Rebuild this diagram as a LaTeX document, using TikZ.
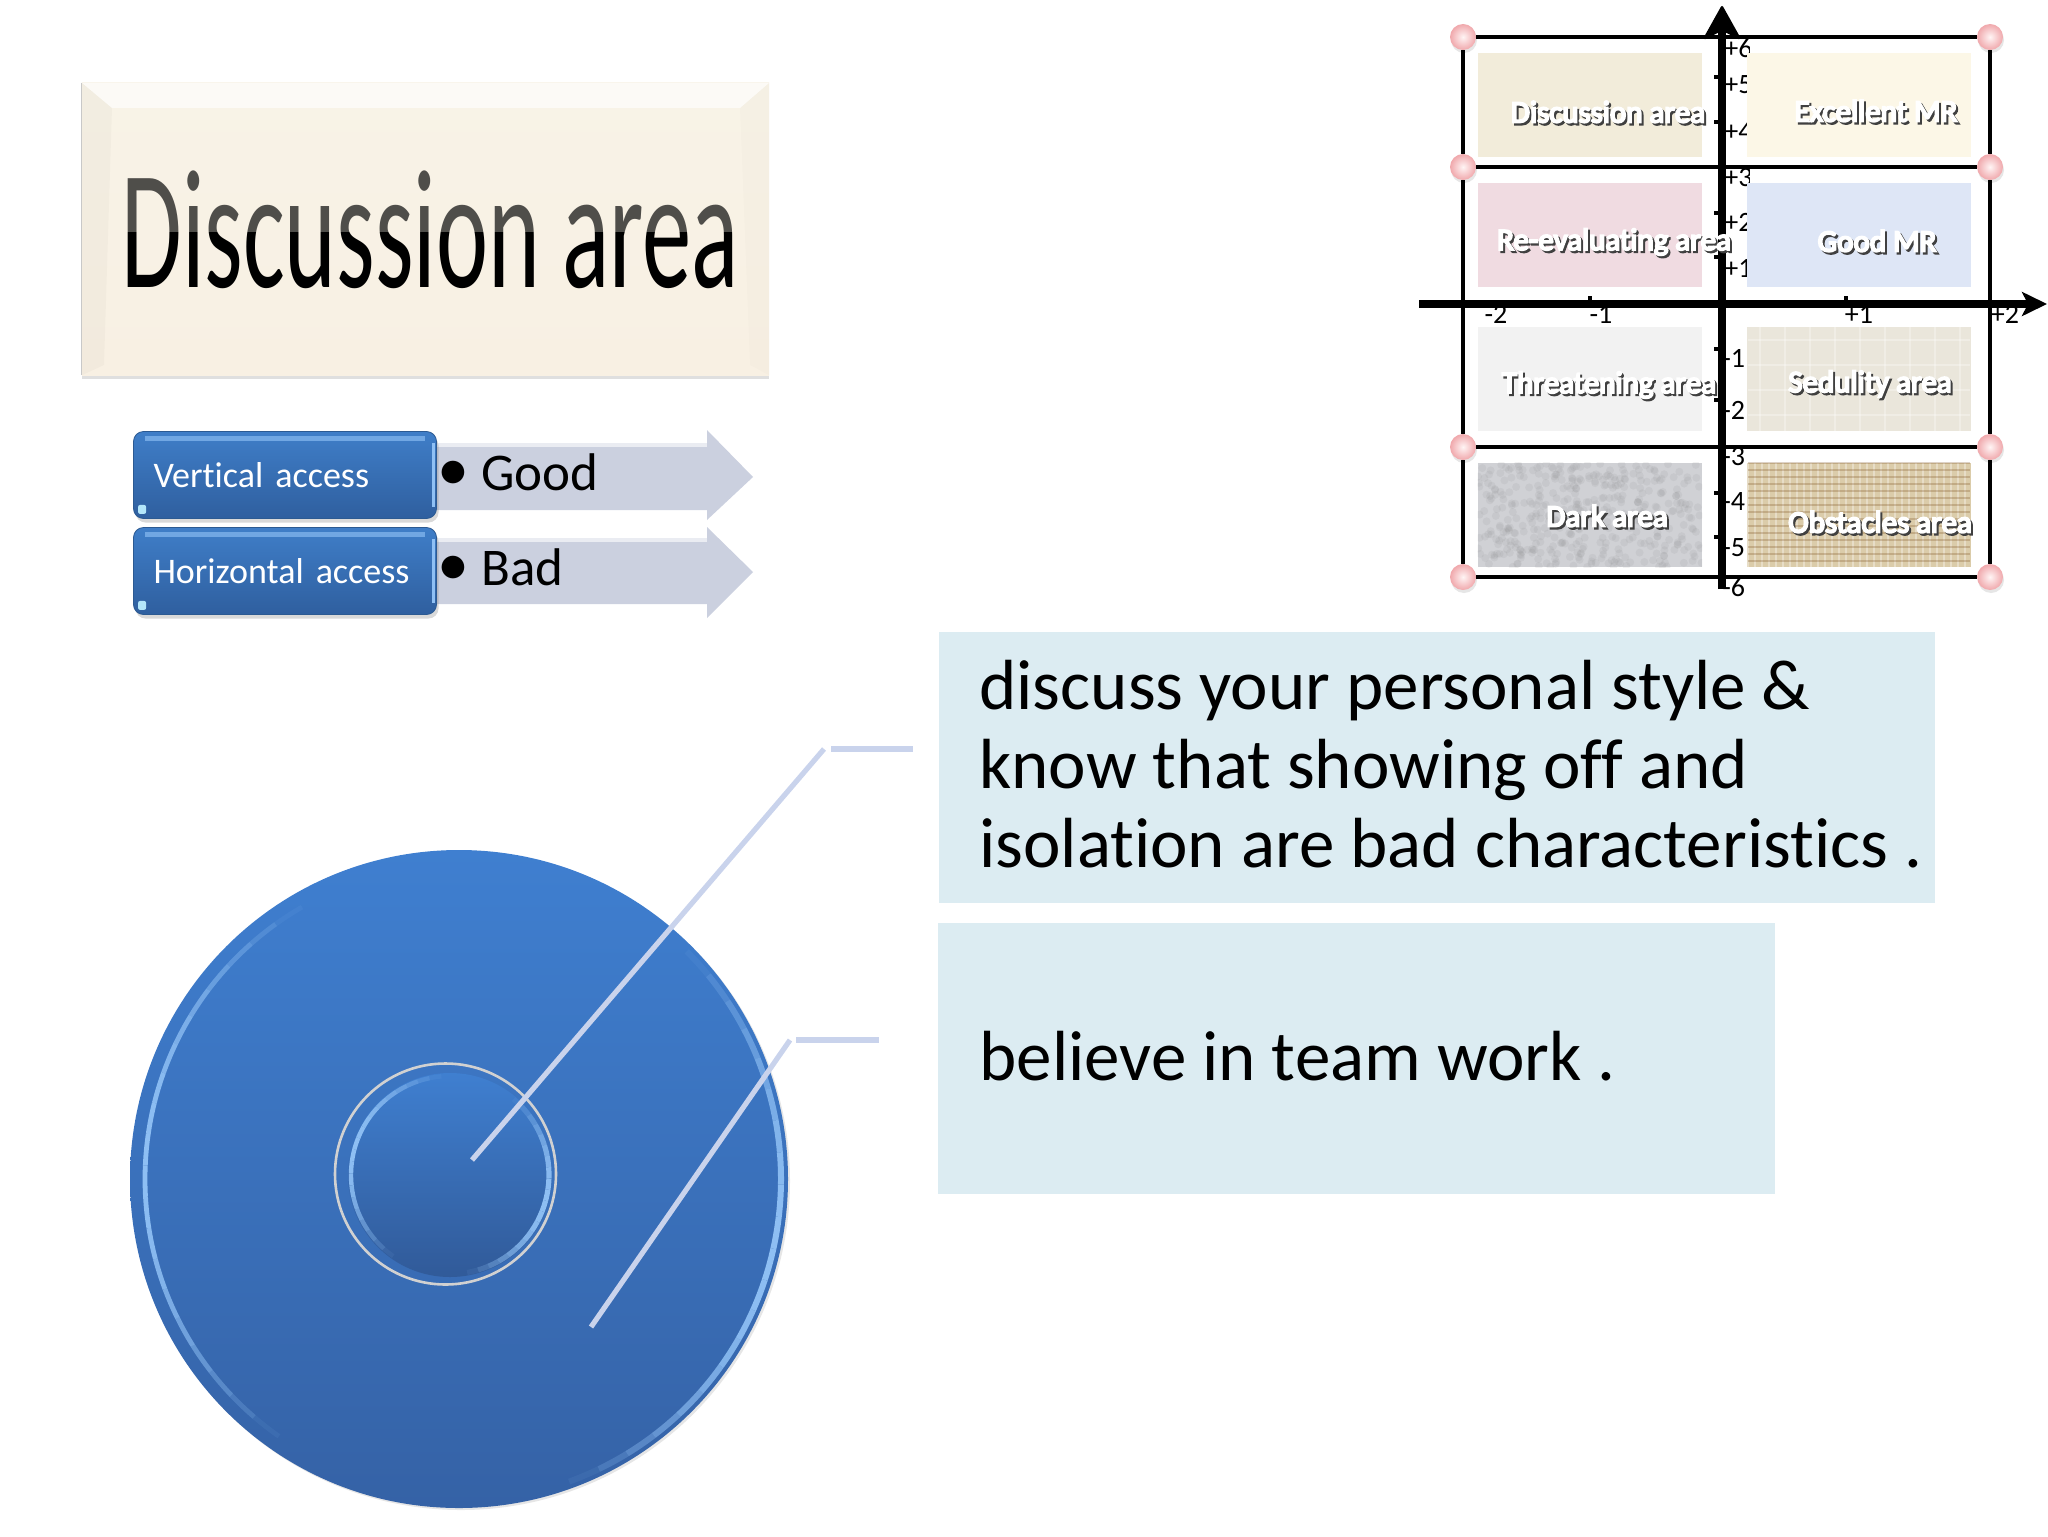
\documentclass[tikz,border=0pt]{standalone}
\usepackage{fontspec}
\setmainfont[Ligatures=CommonOff]{Carlito}
\newfontfamily\fatface[FakeBold=6,Ligatures=CommonOff]{Carlito}
\usetikzlibrary{positioning}
\usetikzlibrary{calc,shadows}
\usetikzlibrary{arrows.meta}
\definecolor{paneltint}{HTML}{DCECF2}
\definecolor{leadertint}{HTML}{C9D3EC}
\definecolor{armtint}{HTML}{CBD0DF}
\definecolor{rimblue}{HTML}{8FC0F4}
\definecolor{titletop}{HTML}{F8F3E7}
\definecolor{titlebot}{HTML}{F8F0E3}
\definecolor{disctop}{HTML}{3F7FD0}
\definecolor{discmid}{HTML}{3D79C6}
\definecolor{discbot}{HTML}{3562A6}
\definecolor{boxtop}{HTML}{3F7EC8}
\definecolor{boxbot}{HTML}{2F5F9F}
\definecolor{boxedge}{HTML}{2C5A92}
\definecolor{ballrim}{HTML}{F0A8AC}
\newcommand{\glowtext}[1]{\makebox[0pt][l]{\raisebox{-1.1pt}{\kern1pt\textcolor{black!75}{#1}}}\textcolor{white}{#1}}
% faded highlight along a circle: centre, radius, first angle, last angle, width
\newcommand{\rimarc}[5]{
	\foreach \a in {0,5,...,95}{
		\pgfmathsetmacro{\op}{sin(1.8*(\a+2.5))}
		\pgfmathsetmacro{\st}{#3+(#4-#3)*\a/100}
		\pgfmathsetmacro{\en}{#3+(#4-#3)*(\a+5)/100}
		\draw[rimblue, line width=#5, opacity=\op] (#1.center) ++(\st:#2) arc[start angle=\st,end angle=\en,radius=#2];
	}
}
\tikzset{
	titlebox/.style={draw=none, inner sep=0pt, minimum width=343.5pt, minimum height=146pt,
		top color=titletop, bottom color=titlebot, drop shadow={opacity=.25,shadow xshift=0pt,shadow yshift=-2pt}},
	bluebox/.style={draw=boxedge, rounded corners=5pt, inner xsep=10pt, inner ysep=0pt,
		minimum width=151.5pt, minimum height=43.5pt, top color=boxtop, bottom color=boxbot,
		text=white, font=\fontsize{18}{21}\selectfont, text width=131.5pt, align=left,
		drop shadow={opacity=.3,shadow xshift=1pt,shadow yshift=-2pt}},
	armshape/.style={fill=armtint},
	armtext/.style={anchor=base west, inner sep=0pt, font=\fontsize{26.5}{30}\selectfont},
	panel/.style={fill=paneltint, draw=none, inner sep=0pt, minimum height=135.5pt},
	paneltext/.style={anchor=west, inner sep=0pt, align=left, font=\fontsize{35.5}{39.5}\selectfont},
	leader/.style={draw=leadertint, line width=2.6pt},
	ball/.style={circle, inner color=red!4!white, outer color=ballrim, inner sep=0pt, minimum size=13pt,
		drop shadow={opacity=.2,shadow xshift=.5pt,shadow yshift=-1.5pt}},
	frameline/.style={draw=black, line width=2.1pt},
	swatch/.style={draw=none, inner sep=0pt, minimum width=112pt, minimum height=52pt},
	swatchlabel/.style={inner sep=0pt, font=\fatface\fontsize{15.5}{17}\selectfont},
	axisnum/.style={inner sep=0pt, anchor=west, font=\fontsize{14}{16}\selectfont},
	tick/.style={draw=black, line width=2pt},
}
\begin{document}
\begin{tikzpicture}[x=.5pt, y=-.5pt]
	\useasboundingbox (0,0) rectangle (2048,1536);
	% title plate
	\node[titlebox] (plate) at (425.5,229) {};
	\fill[white,opacity=.65] (plate.north west)--(plate.north east)--(740,108)--(112,108)--cycle;
	\fill[black,opacity=.025] (plate.north west)--(112,108)--(104,365)--(plate.south west)--cycle;
	\fill[black,opacity=.012] (plate.north east)--(740,108)--(750,365)--(plate.south east)--cycle;
	\draw[black!35, line width=.8pt, opacity=.6] (plate.north west)--(plate.south west);
	\node[inner sep=0pt, anchor=base west] (platetext) at (121,287) {\scalebox{1}[1.72]{\fontsize{49.3}{50}\selectfont Discussion area}};
	\fill[titletop,opacity=.32] (116,168) rectangle (737,232);
	% access rows
	\path[armshape] (420,443)--(707,443)--(707,430)--(753,477)--(707,520)--(707,510)--(420,510)--cycle;
	\path[armshape] (420,538)--(707,538)--(707,527)--(753,572)--(707,618)--(707,604)--(420,604)--cycle;
	\draw[white, opacity=.6, line width=2pt] (420,445)--(707,445);
	\draw[white, opacity=.6, line width=2pt] (420,540)--(707,540);
	\node[bluebox] (vaccess) at (285,475) {Vertical access};
	\node[bluebox] (haccess) at (285,571) {Horizontal access};
	\foreach \boxname in {vaccess,haccess}{
		\draw[rimblue!70!boxtop, line width=2.5pt, opacity=.9] ($(\boxname.north west)+(6pt,-3.5pt)$)--($(\boxname.north east)+(-6pt,-3.5pt)$);
		\draw[rimblue, line width=1.5pt] ($(\boxname.north east)+(-1.5pt,-6pt)$)--($(\boxname.south east)+(-1.5pt,6pt)$);
		\fill[cyan!30!white, rounded corners=1pt] ($(\boxname.south west)+(2.5pt,2.5pt)$) rectangle ($(\boxname.south west)+(6.5pt,7pt)$);
	}
	\node[armtext] (goodtext) at (437,490) {{\fontsize{32}{32}\selectfont •}\hspace{6pt}Good};
	\node[armtext] (badtext) at (437,585) {{\fontsize{32}{32}\selectfont •}\hspace{6pt}Bad};
	% text panels
	\node[panel, minimum width=498pt] (topanel) at (1437,767.5) {};
	\node[panel, minimum width=418.5pt] (lowpanel) at (1356.5,1058.5) {};
	\node[paneltext] (toptext) at (979,764) {discuss your personal style \&\\know that showing off and\\isolation are bad characteristics .};
	\node[paneltext] (lowtext) at (979,1056.5) {believe in team work .};
	% disc
	\node[circle, inner sep=0pt, minimum size=329pt, top color=disctop, middle color=discmid, bottom color=discbot,
		drop shadow={opacity=.2,shadow xshift=1pt,shadow yshift=-1pt}] (disc) at (459,1179) {};
	\rimarc{disc}{157pt}{120}{235}{2.4pt}
	\rimarc{disc}{161pt}{-70}{45}{3pt}
	\node[circle, inner sep=0pt, minimum size=102pt, top color=disctop, bottom color=discbot!92!black] (hub) at (450,1175) {};
	\rimarc{hub}{49.5pt}{95}{235}{2.2pt}
	\rimarc{hub}{49.5pt}{-80}{50}{2.6pt}
	\node[circle, draw=black!18!white, line width=1.3pt, inner sep=0pt, minimum size=110.5pt] (hubring) at (445.5,1174) {};
	% leaders
	\coordinate (topstart) at (472,1160);
	\coordinate (topbend) at (824,749);
	\coordinate (topstub) at (831,749);
	\coordinate (topend) at (913,749);
	\coordinate (lowstart) at (591,1327);
	\coordinate (lowbend) at (790,1040);
	\coordinate (lowstub) at (796,1040);
	\coordinate (lowend) at (879,1040);
	\draw[leader] (topstart)--(topbend);
	\draw[leader, line width=3.2pt] (topstub)--(topend);
	\draw[leader] (lowstart)--(lowbend);
	\draw[leader, line width=3.2pt] (lowstub)--(lowend);
	% matrix corners and frame
	\node[ball] (c1) at (1463,37) {};
	\node[ball] (c2) at (1990,37) {};
	\node[ball] (c3) at (1463,167) {};
	\node[ball] (c4) at (1990,167) {};
	\node[ball] (c5) at (1463,447) {};
	\node[ball] (c6) at (1990,447) {};
	\node[ball] (c7) at (1463,577) {};
	\node[ball] (c8) at (1990,577) {};
	\draw[frameline] (c1)--(c2);
	\draw[frameline] (c3)--(c4);
	\draw[frameline] (c5)--(c6);
	\draw[frameline] (c7)--(c8);
	\draw[frameline] (c1)--(c3);
	\draw[frameline] (c2)--(c4);
	\draw[frameline] (c3)--(c5);
	\draw[frameline] (c4)--(c6);
	\draw[frameline] (c5)--(c7);
	\draw[frameline] (c6)--(c8);
	% axis numbers
	\begin{scope}
		\clip (1700,0) rectangle (1749,300);
		\node[axisnum] (ny6) at (1724,48) {+6};
		\node[axisnum] (ny5) at (1724,85) {+5};
		\node[axisnum] (ny4) at (1724,132) {+4};
		\node[axisnum] (ny3) at (1724,178) {+3};
		\node[axisnum] (ny2) at (1724,222) {+2};
		\node[axisnum] (ny1) at (1724,268) {+1};
	\end{scope}
	\node[axisnum] (my1) at (1722,358) {-1};
	\node[axisnum] (my2) at (1722,410) {-2};
	\node[axisnum] (my3) at (1722,457) {-3};
	\node[axisnum] (my4) at (1722,502) {-4};
	\node[axisnum] (my5) at (1722,548) {-5};
	\node[axisnum] (my6) at (1722,587) {-6};
	\node[axisnum, anchor=center] (mx2) at (1496,314) {-2};
	\node[axisnum, anchor=center] (mx1) at (1601,314) {-1};
	\node[axisnum, anchor=center] (px1) at (1859,314) {+1};
	\node[axisnum, anchor=center] (px2) at (2005,314) {+2};
	% swatches
	\node[swatch, fill={rgb,255:red,242;green,236;blue,218}] (s1) at (1590,105) {};
	\node[swatch, fill={rgb,255:red,252;green,247;blue,231}] (s2) at (1859,105) {};
	\node[swatch, fill={rgb,255:red,240;green,219;blue,225}] (s3) at (1590,235) {};
	\node[swatch, fill={rgb,255:red,222;green,230;blue,246}] (s4) at (1859,235) {};
	\node[swatch, fill=black!5] (s5) at (1590,379) {};
	\node[swatch, fill={rgb,255:red,234;green,230;blue,219}] (s6) at (1859,379) {};
	\node[swatch, fill={rgb,255:red,208;green,209;blue,213}] (s7) at (1590,515) {};
	\node[swatch, fill={rgb,255:red,219;green,204;blue,170}] (s8) at (1859,515) {};
	\pgfmathsetseed{7}
	\begin{scope}
		\clip (s7.south west) rectangle (s7.north east);
		\foreach \k in {1,...,420}{
			\pgfmathsetmacro{\dx}{1478+224*rnd}
			\pgfmathsetmacro{\dy}{463+104*rnd}
			\fill[black!50, opacity=.1] (\dx,\dy) circle (2pt);
		}
	\end{scope}
	\begin{scope}
		\clip (s8.south west) rectangle (s8.north east);
		\foreach \x in {1748,1755,...,1970}
			\draw[white, opacity=.35, line width=1pt] (\x,463)--(\x,567);
		\foreach \y in {463,470,...,567}
			\draw[black!60!orange, opacity=.22, line width=1pt] (1748,\y)--(1970,\y);
	\end{scope}
	\begin{scope}
		\clip (s6.south west) rectangle (s6.north east);
		\foreach \x in {1760,1785,...,1960}
			\draw[white, opacity=.3, line width=.6pt] (\x,327)--(\x,431);
		\foreach \y in {340,365,...,430}
			\draw[white, opacity=.3, line width=.6pt] (1748,\y)--(1970,\y);
	\end{scope}
	% axes
	\coordinate (hstart) at (1419,304);
	\coordinate (hend) at (2047,304);
	\coordinate (vstart) at (1722,589);
	\coordinate (vend) at (1722,6);
	\draw[line width=4pt, -{Stealth[length=12.5pt,width=12pt,inset=3pt]}] (hstart)--(hend);
	\draw[line width=4pt, -{Stealth[length=18pt,width=20pt,inset=5pt,line width=1.2pt,round]}] (vstart)--(vend);
	\foreach \y in {77,122,213,257,349,400,493,537}
		\draw[tick] (1714,\y)--(1722,\y);
	\foreach \x in {1590,1846}
		\draw[tick] (\x,296)--(\x,304);
	% swatch names
	\node[swatchlabel] (l1) at (1608,113) {\glowtext{Discussion area}};
	\node[swatchlabel] (l2) at (1876,112) {\glowtext{Excellent MR}};
	\node[swatchlabel] (l3) at (1614,243) {\glowtext{Re-evaluating area}};
	\node[swatchlabel] (l4) at (1877,242) {\glowtext{Good MR}};
	\node[swatchlabel] (l5) at (1609,386) {\glowtext{Threatening area}};
	\node[swatchlabel] (l6) at (1870,385) {\glowtext{Sedulity area}};
	\node[swatchlabel] (l7) at (1607,517) {\glowtext{Dark area}};
	\node[swatchlabel] (l8) at (1880,523) {\glowtext{Obstacles area}};
\end{tikzpicture}
\end{document}
